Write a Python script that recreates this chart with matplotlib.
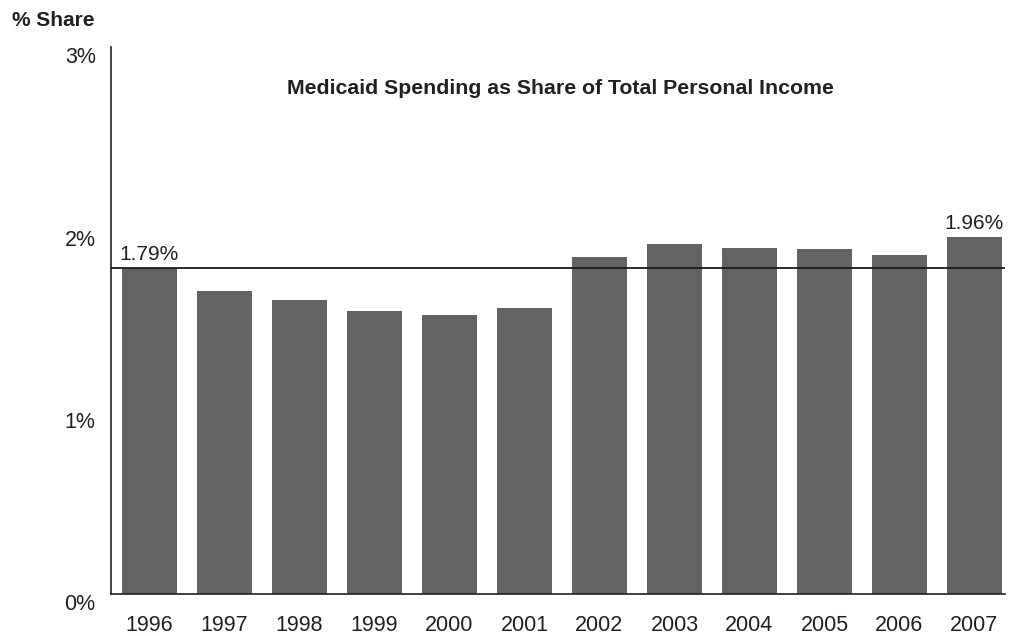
import matplotlib
matplotlib.use('Agg')
import matplotlib.pyplot as plt
from matplotlib.transforms import ScaledTranslation

plt.rcParams['font.family'] = ['Liberation Sans', 'DejaVu Sans']

# Medicaid spending as a share of total personal income (%)
years = ['1996', '1997', '1998', '1999', '2000', '2001',
         '2002', '2003', '2004', '2005', '2006', '2007']
shares = [1.79, 1.66, 1.61, 1.55, 1.53, 1.57,
          1.85, 1.92, 1.90, 1.89, 1.86, 1.96]
yTicks = [0, 1, 2, 3]
yTickLabels = ['0%', '1%', '2%', '3%']

barColor = '#636365'
textColor = '#231f20'

fig = plt.figure(figsize=(10.09, 6.36), dpi=100)
ax = fig.add_axes([111/1009, 42/636, 894/1009, 547/636])

xPos = list(range(len(years)))
ax.bar(xPos, shares, width=0.733, color=barColor, zorder=2)

# Reference line at the 1996 level
ax.axhline(shares[0], color='#1a1a1a', lw=1.3, zorder=3)

# Value labels on first and last bars
ax.text(xPos[0], shares[0] + 0.02, '%.2f%%' % shares[0], ha='center', va='bottom',
        fontsize=15, color=textColor)
ax.text(xPos[-1], shares[-1] + 0.02, '%.2f%%' % shares[-1], ha='center', va='bottom',
        fontsize=15, color=textColor)

ax.set_xlim(-0.513, 11.407)
ax.set_ylim(0, 3)
ax.set_xticks(xPos)
ax.set_xticklabels(years)
ax.set_yticks(yTicks)
ax.set_yticklabels(yTickLabels)
ax.tick_params(axis='both', length=0, labelsize=15.5, colors=textColor)
ax.tick_params(axis='x', pad=15)
ax.tick_params(axis='y', pad=11)

# nudge the y labels down a little below their values
for lbl in ax.get_yticklabels():
    lbl.set_transform(lbl.get_transform() + ScaledTranslation(0, -6/72, fig.dpi_scale_trans))

for side in ['top', 'right']:
    ax.spines[side].set_visible(False)
ax.spines['left'].set_linewidth(1.2)
ax.spines['bottom'].set_linewidth(1.2)
ax.spines['left'].set_color(textColor)
ax.spines['bottom'].set_color(textColor)

ax.text(0.503, 0.925, 'Medicaid Spending as Share of Total Personal Income',
        transform=ax.transAxes, ha='center', va='center', fontsize=15.3,
        fontweight='bold', color=textColor)

fig.text(12/1009, 1 - 20/636, '% Share', ha='left', va='center', fontsize=15,
         fontweight='bold', color=textColor)

fig.savefig('out.png', dpi=100)
